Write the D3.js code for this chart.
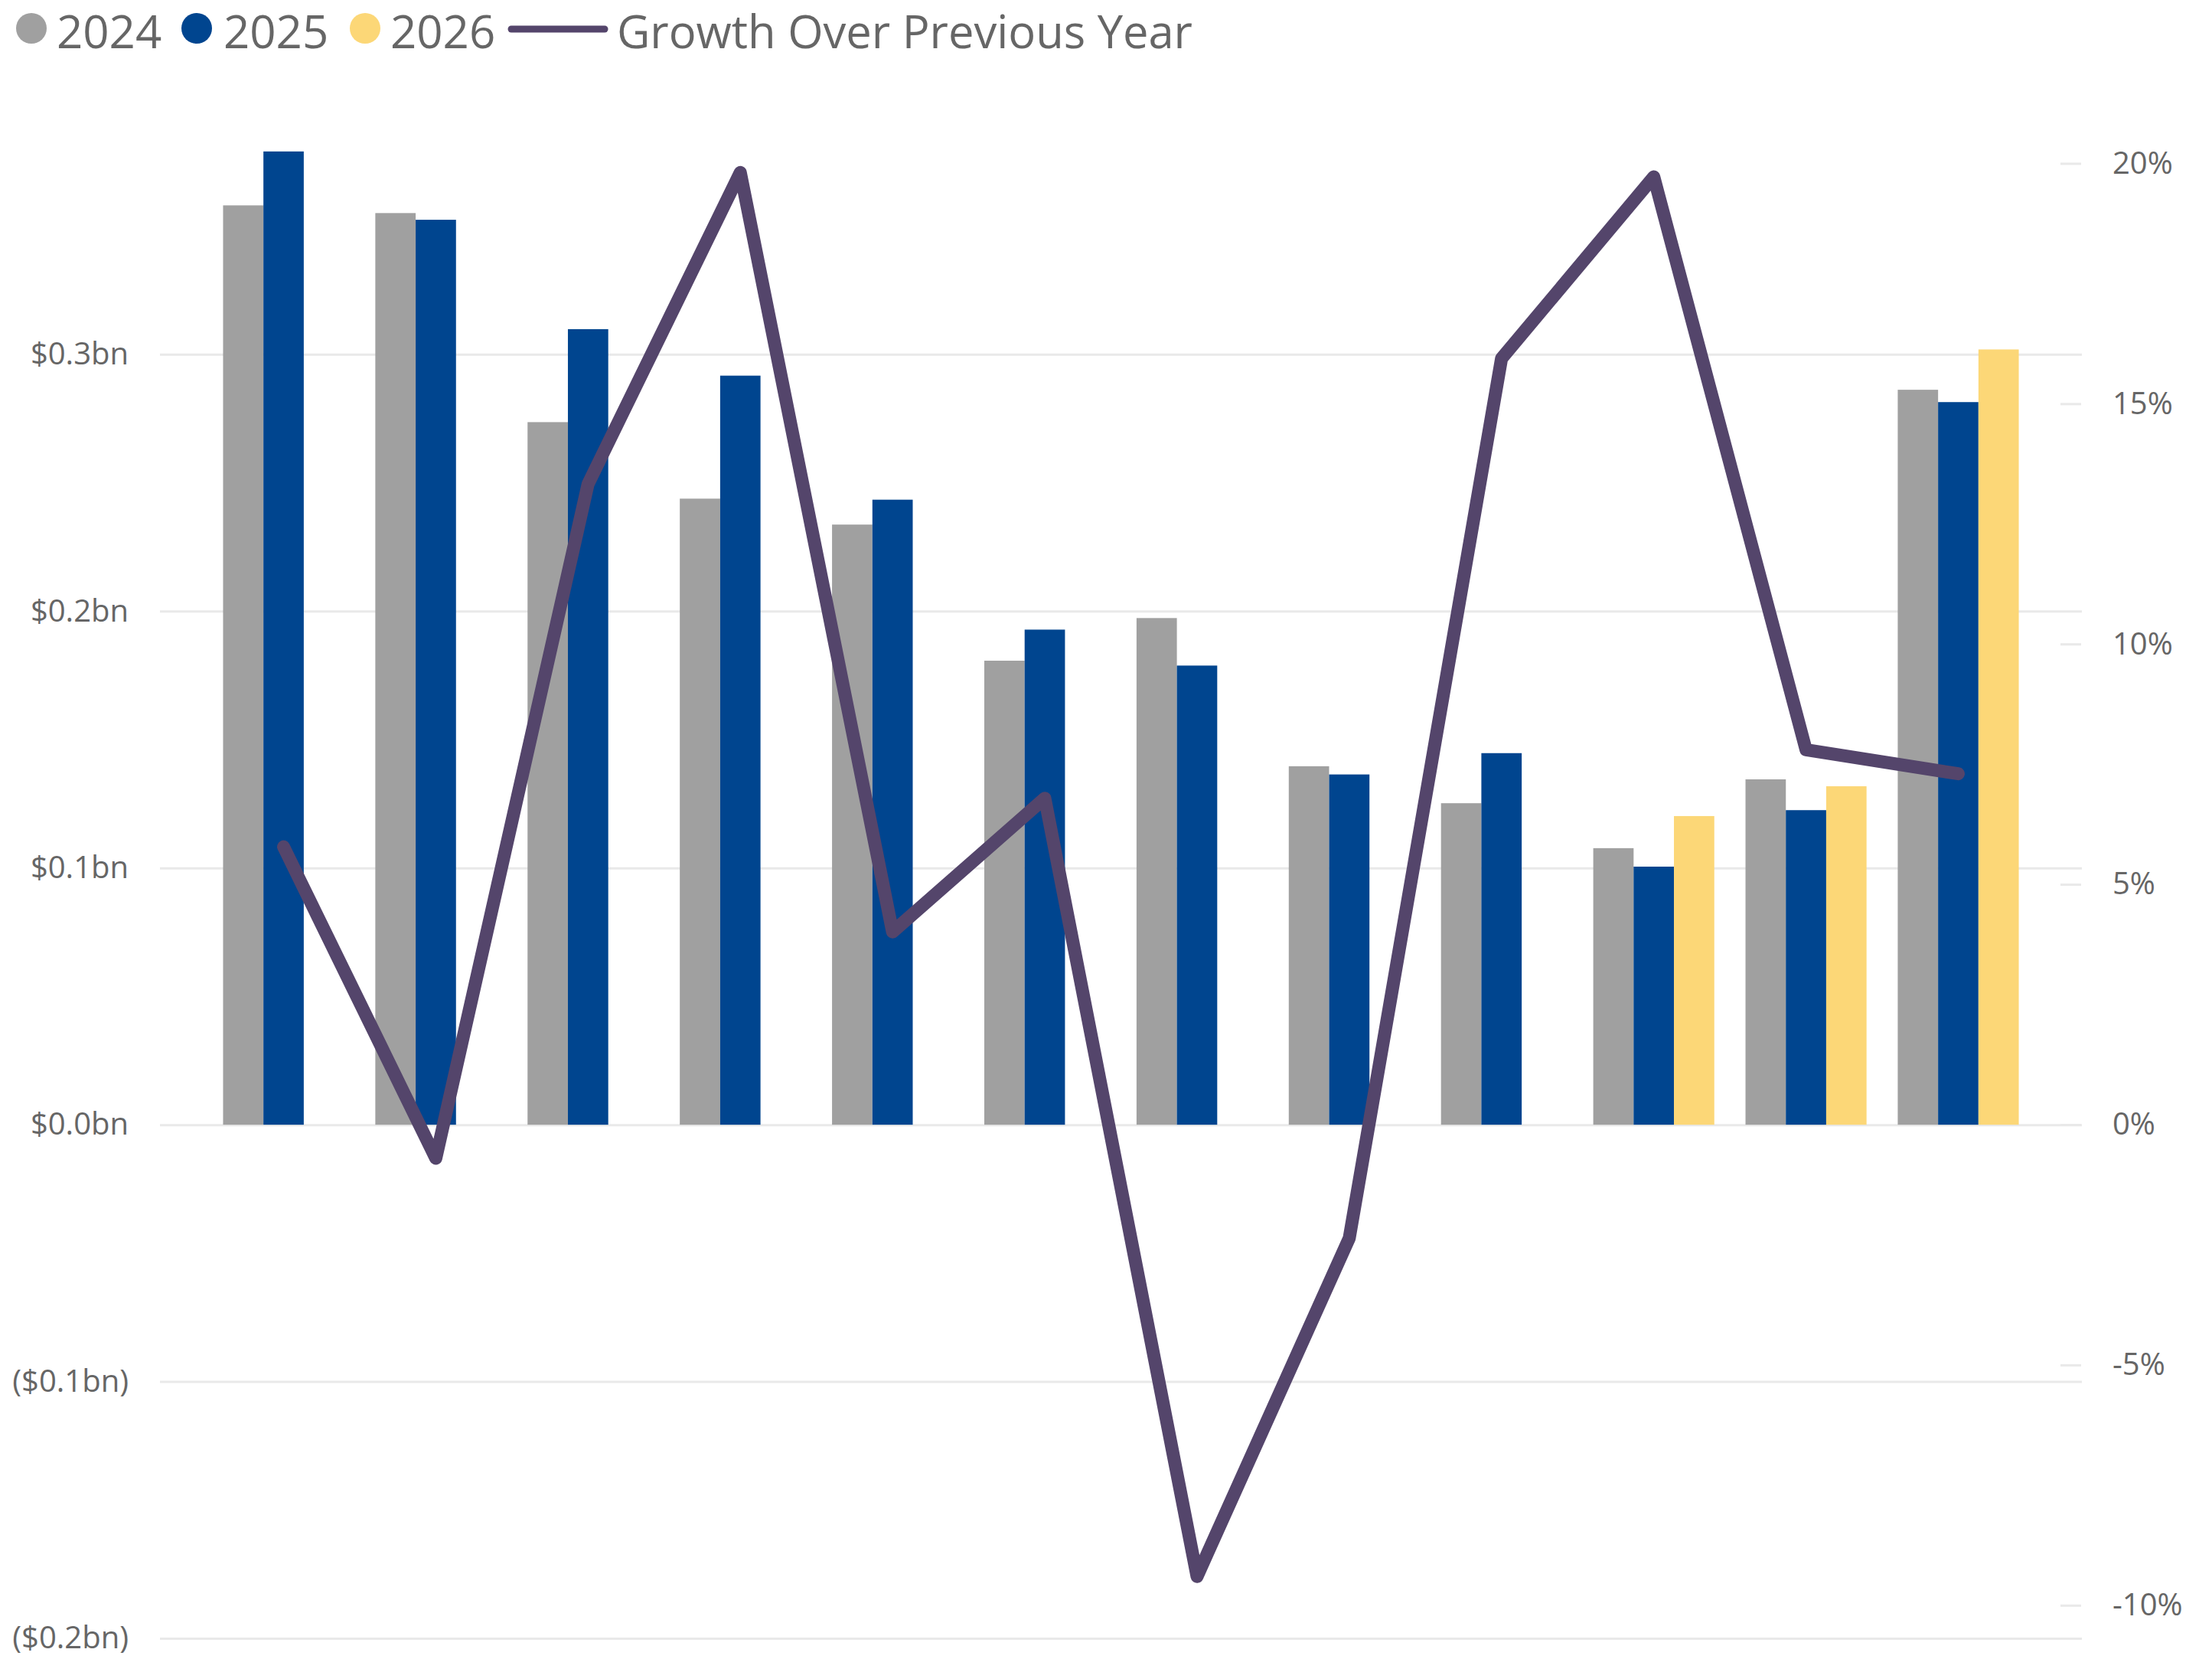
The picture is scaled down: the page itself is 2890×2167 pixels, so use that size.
<!DOCTYPE html>
<html>
<head>
<meta charset="utf-8">
<script src="https://cdn.jsdelivr.net/npm/d3@7"></script>
<style>
  html, body { margin: 0; padding: 0; background: #ffffff; }
  svg { display: block; }
  text { font-family: "Segoe UI", "Open Sans", "Noto Sans", sans-serif; }
</style>
</head>
<body>
<svg id="chart" width="2890" height="2167"></svg>
<script>
// ---- Data ----
const categories = ["C01","C02","C03","C04","C05","C06","C07","C08","C09","C10","C11","C12"];
const seriesNames = ["2024","2025","2026"];
const values2024 = [0.358, 0.355, 0.2736, 0.2438, 0.2337, 0.1807, 0.1973, 0.1396, 0.1252, 0.1077, 0.1345, 0.2862];
const values2025 = [0.379, 0.3524, 0.3098, 0.2917, 0.2434, 0.1928, 0.1788, 0.1364, 0.1447, 0.1005, 0.1225, 0.2814];
const values2026 = [null, null, null, null, null, null, null, null, null, 0.1202, 0.1318, 0.3019];
const growthPct = [5.78, -0.70, 13.33, 19.81, 4.01, 6.79, -9.40, -2.36, 15.94, 19.72, 7.80, 7.30];
const lineName = "Growth Over Previous Year";
const leftTicks = [-0.2, -0.1, 0.0, 0.1, 0.2, 0.3];
const rightTicks = [-10, -5, 0, 5, 10, 15, 20];

// ---- Styles ----
const colors = { "2024": "#A0A0A0", "2025": "#00458F", "2026": "#FCD777" };
const lineColor = "#54456B";
const textColor = "#666666";
const gridColor = "#E9E9E9";

const svg = d3.select("#chart");
const plot = { left: 209, right: 2720, top: 150, bottom: 2140 };

const x = d3.scaleBand().domain(categories)
  .range([plot.left, plot.right]).paddingInner(0.205).paddingOuter(0.4145);
const xSub = d3.scaleBand().domain(seriesNames).range([0, x.bandwidth()]);
const yL = d3.scaleLinear().domain([-0.2, 0.39326]).range([plot.bottom, plot.top]);
const yR = d3.scaleLinear().domain([-10.688, 21.01]).range([plot.bottom, plot.top]);

const fmtL = v => {
  const s = "$" + Math.abs(v).toFixed(1) + "bn";
  return v < 0 ? "(" + s + ")" : s;
};

// Left axis with gridlines
const gL = svg.append("g").attr("transform", `translate(${plot.left},0)`)
  .call(d3.axisLeft(yL).tickValues(leftTicks).tickFormat(fmtL)
    .tickSize(-(plot.right - plot.left)).tickPadding(41));
gL.select(".domain").remove();
gL.selectAll(".tick line").attr("stroke", gridColor).attr("stroke-width", 3);
gL.selectAll(".tick text").attr("fill", textColor).attr("font-size", 40)
  .style("font-family", '"Segoe UI", "Open Sans", sans-serif');

// Right axis
const gR = svg.append("g").attr("transform", `translate(2692,0)`)
  .call(d3.axisRight(yR).tickValues(rightTicks).tickFormat(d => d + "%")
    .tickSize(27).tickPadding(41));
gR.select(".domain").remove();
gR.selectAll(".tick line").attr("stroke", gridColor).attr("stroke-width", 3);
gR.selectAll(".tick text").attr("fill", textColor).attr("font-size", 40)
  .style("font-family", '"Segoe UI", "Open Sans", sans-serif');

// Bars
const rows = [];
categories.forEach((c, i) => {
  [["2024", values2024[i]], ["2025", values2025[i]], ["2026", values2026[i]]].forEach(([s, v]) => {
    if (v != null) rows.push({ c, s, v });
  });
});
svg.append("g").selectAll("rect").data(rows).join("rect")
  .attr("x", d => x(d.c) + xSub(d.s))
  .attr("width", xSub.bandwidth())
  .attr("y", d => yL(Math.max(0, d.v)))
  .attr("height", d => Math.abs(yL(d.v) - yL(0)))
  .attr("fill", d => colors[d.s]);

// Line
const line = d3.line()
  .x((d, i) => x(categories[i]) + x.bandwidth() / 2)
  .y(d => yR(d));
svg.append("path").datum(growthPct)
  .attr("d", line)
  .attr("fill", "none")
  .attr("stroke", lineColor)
  .attr("stroke-width", 17)
  .attr("stroke-linejoin", "round")
  .attr("stroke-linecap", "round");

// Legend
const legend = svg.append("g");
const legendItems = [
  { name: seriesNames[0], cx: 41, tx: 74 },
  { name: seriesNames[1], cx: 257, tx: 292 },
  { name: seriesNames[2], cx: 477, tx: 510 }
];
legendItems.forEach(it => {
  legend.append("circle").attr("cx", it.cx).attr("cy", 37).attr("r", 20).attr("fill", colors[it.name]);
  legend.append("text").attr("x", it.tx).attr("y", 63).attr("font-size", 60)
    .attr("fill", textColor).text(it.name);
});
legend.append("line").attr("x1", 668).attr("x2", 790).attr("y1", 38).attr("y2", 38)
  .attr("stroke", lineColor).attr("stroke-width", 9).attr("stroke-linecap", "round");
legend.append("text").attr("x", 806).attr("y", 63).attr("font-size", 60)
  .attr("fill", textColor).attr("textLength", 752).attr("lengthAdjust", "spacingAndGlyphs")
  .text(lineName);
</script>
</body>
</html>
